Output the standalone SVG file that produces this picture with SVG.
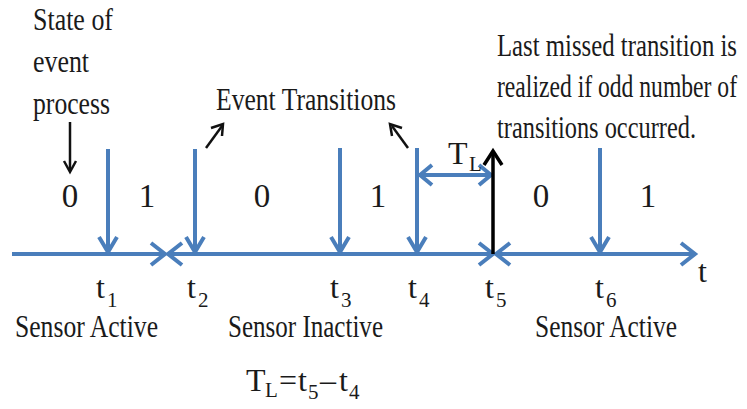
<svg xmlns="http://www.w3.org/2000/svg" width="747" height="409" viewBox="0 0 747 409">
<style>
text{font-family:"Liberation Serif","Times New Roman",serif;fill:#1a1a1a;font-size:32px}
.sub{font-size:21px}
.dg{font-size:33px}
.ax{stroke:#4a7ebb;stroke-width:4;fill:none;stroke-linecap:butt}
.hd{stroke:#4a7ebb;stroke-width:4;fill:none;stroke-linejoin:miter}
.bk{stroke:#000;stroke-width:3.5;fill:none}
.bk2{stroke:#111;stroke-width:2.5;fill:none}
</style>
<rect width="747" height="409" fill="#fff"/>
<g id="connectors">
  <line class="ax" x1="12" y1="254" x2="164" y2="254"/>
  <polyline class="hd" points="151,243 165,254 151,265"/>
  <line class="ax" x1="169" y1="254" x2="491" y2="254"/>
  <polyline class="hd" points="182,243 168,254 182,265"/>
  <polyline class="hd" points="479,243 493,254 479,265"/>
  <line class="ax" x1="497" y1="254" x2="694" y2="254"/>
  <polyline class="hd" points="510,243 496,254 510,265"/>
  <polyline class="hd" points="681,243 695,254 681,265"/>
  <line class="ax" x1="108" y1="149" x2="108" y2="252"/>
  <polyline class="hd" points="99,237 108,252 117,237"/>
  <line class="ax" x1="195" y1="149" x2="195" y2="252"/>
  <polyline class="hd" points="186,237 195,252 204,237"/>
  <line class="ax" x1="340" y1="148" x2="340" y2="252"/>
  <polyline class="hd" points="331,237 340,252 349,237"/>
  <line class="ax" x1="417" y1="148" x2="417" y2="252"/>
  <polyline class="hd" points="408,237 417,252 426,237"/>
  <line class="ax" x1="600" y1="148" x2="600" y2="252"/>
  <polyline class="hd" points="591,237 600,252 609,237"/>
  <line class="ax" x1="419" y1="175" x2="491" y2="175"/>
  <polyline class="hd" points="432,165 420,175 432,185"/>
  <polyline class="hd" points="479,165 491,175 479,185"/>
  <line class="bk" x1="493" y1="254" x2="493" y2="152"/>
  <polyline class="bk" points="484,165 493,151 502,165"/>
  <line class="bk2" x1="70" y1="122" x2="70" y2="171"/>
  <polyline class="bk2" points="64,161 70,172 76,161"/>
  <line class="bk2" x1="206" y1="148" x2="222" y2="126"/>
  <polyline class="bk2" points="211,128 223,124 222,136"/>
  <line class="bk2" x1="408" y1="148" x2="392" y2="126"/>
  <polyline class="bk2" points="392,136 390,124 402,128"/>
</g>
<g id="label-state">
  <text x="33" y="30" textLength="80" lengthAdjust="spacingAndGlyphs">State of</text>
  <text x="33" y="72" textLength="56" lengthAdjust="spacingAndGlyphs">event</text>
  <text x="33" y="114" textLength="77" lengthAdjust="spacingAndGlyphs">process</text>
</g>
<g id="label-event-transitions">
  <text x="216" y="110" textLength="180" lengthAdjust="spacingAndGlyphs">Event Transitions</text>
</g>
<g id="label-last-missed">
  <text x="497" y="56" textLength="240" lengthAdjust="spacingAndGlyphs">Last missed transition is</text>
  <text x="497" y="97" textLength="240" lengthAdjust="spacingAndGlyphs">realized if odd number of</text>
  <text x="497" y="138" textLength="199" lengthAdjust="spacingAndGlyphs">transitions occurred.</text>
</g>
<g id="states">
  <text class="dg" x="70" y="207" text-anchor="middle">0</text>
  <text class="dg" x="147" y="207" text-anchor="middle">1</text>
  <text class="dg" x="262" y="207" text-anchor="middle">0</text>
  <text class="dg" x="378" y="207" text-anchor="middle">1</text>
  <text class="dg" x="541" y="207" text-anchor="middle">0</text>
  <text class="dg" x="648" y="207" text-anchor="middle">1</text>
</g>
<g id="label-TL">
  <text x="448" y="164">T</text>
  <text class="sub" x="469" y="171">L</text>
</g>
<g id="ticks">
  <text x="96" y="298">t</text><text class="sub" x="107" y="307">1</text>
  <text x="187" y="298">t</text><text class="sub" x="198" y="307">2</text>
  <text x="330" y="298">t</text><text class="sub" x="341" y="307">3</text>
  <text x="408" y="298">t</text><text class="sub" x="419" y="307">4</text>
  <text x="485" y="298">t</text><text class="sub" x="496" y="307">5</text>
  <text x="595" y="298">t</text><text class="sub" x="606" y="307">6</text>
  <text x="698" y="282">t</text>
</g>
<g id="label-sensor">
  <text x="15" y="337" textLength="143" lengthAdjust="spacingAndGlyphs">Sensor Active</text>
  <text x="228" y="337" textLength="155" lengthAdjust="spacingAndGlyphs">Sensor Inactive</text>
  <text x="535" y="337" textLength="142" lengthAdjust="spacingAndGlyphs">Sensor Active</text>
</g>
<g id="label-formula">
  <text x="246" y="391">T</text><text class="sub" x="265" y="397">L</text>
  <text x="279" y="391">=</text>
  <text x="298" y="391">t</text><text class="sub" x="308" y="399">5</text>
  <text x="320" y="391">–</text>
  <text x="339" y="391">t</text><text class="sub" x="349" y="399">4</text>
</g>
</svg>
